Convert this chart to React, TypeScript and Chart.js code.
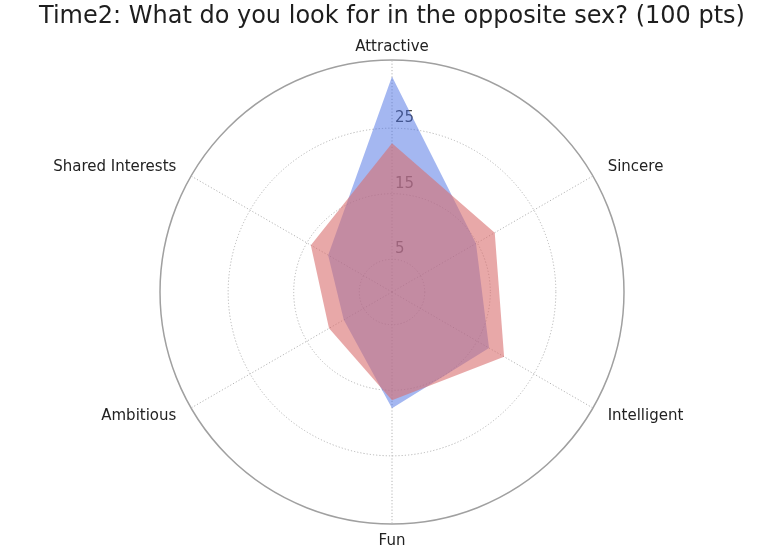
import React, { useEffect, useRef } from 'react';
import { Chart, registerables } from 'chart.js';

Chart.register(...registerables);

const titleText = 'Time2: What do you look for in the opposite sex? (100 pts)';
const categories = ['Attractive', 'Sincere', 'Intelligent', 'Fun', 'Ambitious', 'Shared Interests'];
const maleValues = [32.9, 14.8, 17.1, 17.75, 8.5, 11.25];
const femaleValues = [22.7, 18.1, 19.75, 16.5, 11.1, 14.3];
const tickValues = [5, 15, 25];
const rMax = 35.4;

const FONT = '"DejaVu Sans", sans-serif';
const labelGap = [13, 17, 17, 17, 17, 17];

const radarText = {
  id: 'radarText',
  beforeDatasetsDraw(chart: any) {
    const s = chart.scales.r;
    const ctx = chart.ctx;
    ctx.save();
    ctx.font = '15px ' + FONT;
    // radial tick labels (under the fills)
    ctx.fillStyle = '#444444';
    ctx.textAlign = 'left';
    ctx.textBaseline = 'middle';
    tickValues.forEach((v) => {
      const d = s.getDistanceFromCenterForValue(v);
      ctx.fillText(String(v), s.xCenter + 3, s.yCenter - d - 10);
    });
    // category labels around the outer circle
    ctx.fillStyle = '#222222';
    const labels: string[] = chart.data.labels;
    labels.forEach((lab, i) => {
      const p = s.getPointPosition(i, s.drawingArea + labelGap[i]);
      const dx = p.x - s.xCenter;
      ctx.textAlign = Math.abs(dx) < 1 ? 'center' : dx > 0 ? 'left' : 'right';
      ctx.fillText(lab, p.x, p.y);
    });
    ctx.restore();
  },
};

export default function App() {
  const ref = useRef<HTMLCanvasElement | null>(null);
  useEffect(() => {
    if (!ref.current) return;
    const last = tickValues.length + 1;
    const chart = new Chart(ref.current, {
      type: 'radar',
      data: {
        labels: categories,
        datasets: [
          {
            label: 'Female',
            data: femaleValues,
            backgroundColor: 'rgba(216, 110, 110, 0.6)',
            borderWidth: 0,
            borderColor: 'rgba(0,0,0,0)',
            pointRadius: 0,
            fill: true,
          },
          {
            label: 'Male',
            data: maleValues,
            backgroundColor: 'rgba(65, 105, 225, 0.48)',
            borderWidth: 0,
            borderColor: 'rgba(0,0,0,0)',
            pointRadius: 0,
            fill: true,
          },
        ],
      },
      options: {
        animation: false,
        responsive: false,
        layout: { padding: { left: 12, right: 0, top: 0, bottom: 36 } },
        plugins: {
          legend: { display: false },
          tooltip: { enabled: false },
          title: {
            display: true,
            text: titleText,
            color: '#1e1e1e',
            font: { family: FONT, size: 24, weight: 'normal' },
            padding: { top: 2, bottom: 29.2 },
          },
        },
        scales: {
          r: {
            min: 0,
            max: rMax,
            startAngle: 0,
            afterBuildTicks: (s: any) => {
              s.ticks = [0, ...tickValues, rMax].map((value) => ({ value }));
            },
            ticks: { display: false },
            grid: {
              circular: true,
              color: (c: any) => (c.index === last ? '#a0a0a0' : '#b4b4b4'),
              lineWidth: (c: any) => (c.index === last ? 1.5 : 1),
            },
            border: {
              dash: (c: any) => (c.index === last ? [] : [1.2, 2]),
            } as any,
            angleLines: { color: '#b4b4b4', lineWidth: 1, borderDash: [1.2, 2] },
            pointLabels: { display: false },
          },
        },
      } as any,
      plugins: [radarText],
    });
    return () => chart.destroy();
  }, []);
  return (
    <div style={{ position: 'fixed', left: 0, top: 0, width: 772, height: 560, background: '#fff' }}>
      <canvas ref={ref} width={772} height={560} style={{ display: 'block' }} />
    </div>
  );
}
